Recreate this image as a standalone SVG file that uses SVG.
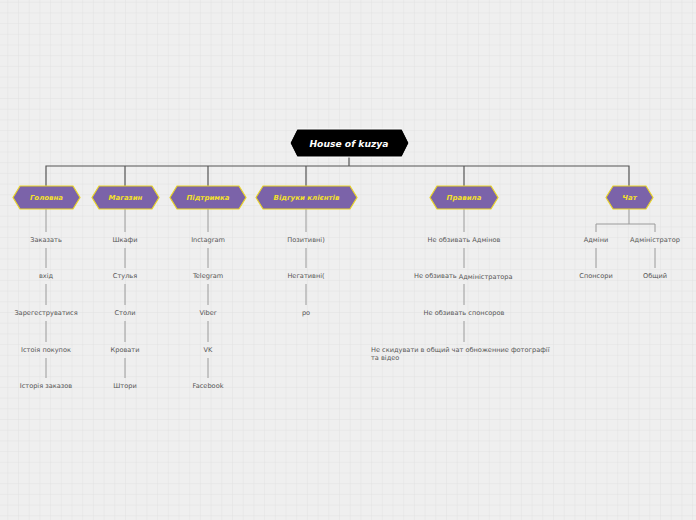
<svg xmlns="http://www.w3.org/2000/svg" width="696" height="520" viewBox="0 0 696 520">
<defs>
<pattern id="grid" x="7.3" y="1.7" width="10.7" height="10.7" patternUnits="userSpaceOnUse">
<path d="M0 0H10.7M0 0V10.7" fill="none" stroke="#e1e1e1" stroke-width="1"/>
</pattern>
<style>
.main{stroke:#555;stroke-width:1.2;fill:none}
.sub{stroke:#9a9a9a;stroke-width:1;fill:none}
.cat{fill:#7b63a9;stroke:#e9d426;stroke-width:1.2}
.cat-t{font-family:"DejaVu Sans",sans-serif;font-size:7px;font-weight:bold;font-style:italic;fill:#f3e02a;text-anchor:middle}
.item{font-family:"DejaVu Sans",sans-serif;font-size:6.6px;fill:#555;text-anchor:middle}
.left{text-anchor:start}
</style>
</defs>
<rect width="696" height="520" fill="#efefef"/>
<rect width="696" height="520" fill="url(#grid)"/>
<g id="connectors">
<path class="main" d="M349 157V166M46 186V166H629V186M125 166V186M208 166V186M306 166V186M464 166V186"/>
<path class="sub" d="M46 209V232M46 248V268M46 284V305M46 321V342M46 358V378"/>
<path class="sub" d="M125 209V232M125 248V268M125 284V305M125 321V342M125 358V378"/>
<path class="sub" d="M208 209V232M208 248V268M208 284V305M208 321V342M208 358V378"/>
<path class="sub" d="M306 209V232M306 248V268M306 284V305"/>
<path class="sub" d="M464 209V232M464 248V268M464 284V305M464 321V342"/>
<path class="sub" d="M629 209V224M596 232V224H655V232M596 248V268M655 248V268"/>
</g>
<g id="root">
<polygon points="290,143 297,129 402,129 409,143 402,157 297,157" fill="#000" stroke="#fff" stroke-width="1"/>
<text x="349" y="146.5" font-family="DejaVu Sans,sans-serif" font-size="9.2" font-weight="bold" font-style="italic" fill="#fff" text-anchor="middle">House of kuzya</text>
</g>
<g id="n-golovna">
<polygon class="cat" points="13,197.5 20,186 73,186 80,197.5 73,209 20,209"/>
<text class="cat-t" x="46.5" y="200">Головна</text>
<text class="item" x="46" y="242">Заказать</text>
<text class="item" x="46" y="278">вхід</text>
<text class="item" x="46" y="315">Зарегеструватися</text>
<text class="item" x="46" y="352">Істоія покупок</text>
<text class="item" x="46" y="388">Історія заказов</text>
</g>
<g id="n-magazyn">
<polygon class="cat" points="92,197.5 99,186 152,186 159,197.5 152,209 99,209"/>
<text class="cat-t" x="125.5" y="200">Магазин</text>
<text class="item" x="125" y="242">Шкафи</text>
<text class="item" x="125" y="278">Стулья</text>
<text class="item" x="125" y="315">Столи</text>
<text class="item" x="125" y="352">Кровати</text>
<text class="item" x="125" y="388">Штори</text>
</g>
<g id="n-pidtrymka">
<polygon class="cat" points="170,197.5 177,186 239,186 246,197.5 239,209 177,209"/>
<text class="cat-t" x="208" y="200">Підтримка</text>
<text class="item" x="208" y="242">Inctagram</text>
<text class="item" x="208" y="278">Telegram</text>
<text class="item" x="208" y="315">Viber</text>
<text class="item" x="208" y="352">VK</text>
<text class="item" x="208" y="388">Facebook</text>
</g>
<g id="n-vidguky">
<polygon class="cat" points="256,197.5 263,186 350,186 357,197.5 350,209 263,209"/>
<text class="cat-t" x="306.5" y="200">Відгуки клієнтів</text>
<text class="item" x="306" y="242">Позитивні)</text>
<text class="item" x="306" y="278">Негативні(</text>
<text class="item" x="306" y="315">ро</text>
</g>
<g id="n-pravyla">
<polygon class="cat" points="430,197.5 437,186 491,186 498,197.5 491,209 437,209"/>
<text class="cat-t" x="464" y="200">Правила</text>
<text class="item" x="464" y="242">Не обзивать Адмінов</text>
<text class="item left" x="414" y="278">Не обзивать <tspan dy="1">Адміністратора</tspan></text>
<text class="item" x="464" y="315">Не обзивать спонсоров</text>
<text class="item left" x="371" y="352">Не скидувати в общий чат обноженние фотографії</text>
<text class="item left" x="371" y="360">та відео</text>
</g>
<g id="n-chat">
<polygon class="cat" points="606,197.5 613,186 646,186 653,197.5 646,209 613,209"/>
<text class="cat-t" x="629.5" y="200">Чат</text>
<text class="item" x="596" y="242">Адміни</text>
<text class="item" x="655" y="242">Адміністратор</text>
<text class="item" x="596" y="278">Спонсори</text>
<text class="item" x="655" y="278">Общий</text>
</g>
</svg>
